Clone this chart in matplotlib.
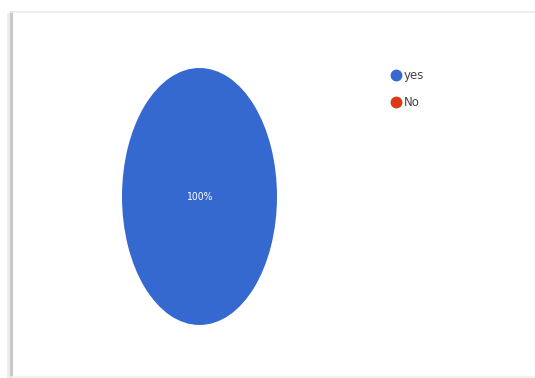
import matplotlib.pyplot as plt
from matplotlib.lines import Line2D

labels = ["yes", "No"]
values = [100, 0]
colors = ["#3669D0", "#DC3912"]

W, H = 535, 378
fig = plt.figure(figsize=(W / 100, H / 100), dpi=100)
fig.patch.set_facecolor("white")

# card edges (light shadowed border)
fig.add_artist(Line2D([11 / W, 11 / W], [0, 1 - 12 / H], color="#c8c8c8", lw=2.2))
fig.add_artist(Line2D([8 / W, 8 / W], [0, 1 - 14 / H], color="#ececec", lw=2))
fig.add_artist(Line2D([11 / W, 1], [1 - 12 / H, 1 - 12 / H], color="#ebebeb", lw=1.2))
fig.add_artist(Line2D([11 / W, 1], [1.5 / H, 1.5 / H], color="#f0f0f0", lw=1.2))

# pie drawn stretched vertically
ax = fig.add_axes([122 / W, 1 - 325 / H, 155 / W, 257 / H])
ax.pie([v for v in values if v > 0], colors=[colors[0]], startangle=90,
       counterclock=False, radius=1,
       wedgeprops=dict(linewidth=0))
ax.set_aspect("auto")
ax.set_xlim(-1, 1)
ax.set_ylim(-1, 1)
ax.axis("off")
ax.text(0, 0, f"{values[0]}%", ha="center", va="center", color="white",
        fontsize=7.5, fontstretch="condensed")

handles = [Line2D([], [], marker="o", linestyle="none", markersize=7.5,
                  markerfacecolor=c, markeredgecolor=c) for c in colors]
fig.legend(handles, labels, loc="upper left",
           bbox_to_anchor=(383 / W, 1 - 63 / H), frameon=False,
           fontsize=8.5, labelcolor="#444444", handletextpad=0.05,
           labelspacing=1.2, handlelength=1.2, borderpad=0)

fig.savefig("out.png", dpi=100, facecolor="white")
